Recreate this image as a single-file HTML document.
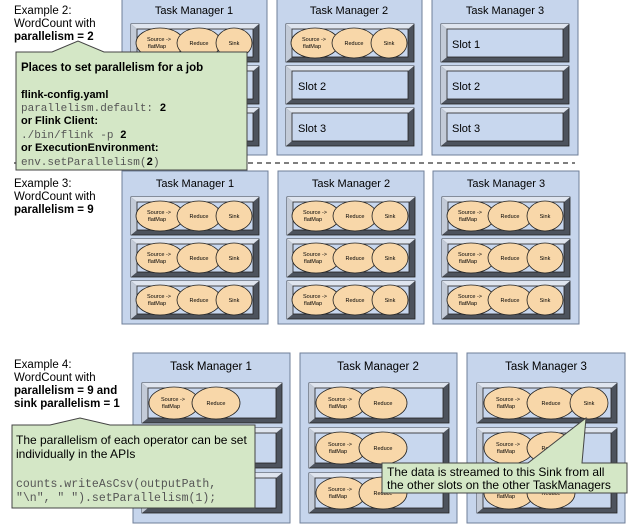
<!DOCTYPE html>
<html><head><meta charset="utf-8"><style>
html,body{margin:0;padding:0;background:#fff;}
svg{display:block;font-family:"Liberation Sans",sans-serif;}
.mono{font-family:"Liberation Mono",monospace;}
</style></head><body>
<svg width="638" height="526" viewBox="0 0 638 526" xmlns="http://www.w3.org/2000/svg">
<defs>
<symbol id="slot" overflow="visible">
 <rect x="0" y="0" width="128" height="38" fill="#4d535d" stroke="#222" stroke-width="0.8"/>
 <polygon points="0,0 128,0 122,5 6,5" fill="#dfe5ef"/>
 <polygon points="0,0 6,5 6,33 0,38" fill="#c3cbd8"/>
 <rect x="6" y="5" width="116" height="28" fill="#c8d7ee" stroke="#222" stroke-width="0.8"/>
</symbol>
<symbol id="slotw" overflow="visible">
 <rect x="0" y="0" width="140" height="40" fill="#4d535d" stroke="#222" stroke-width="0.8"/>
 <polygon points="0,0 140,0 134,5 6,5" fill="#dfe5ef"/>
 <polygon points="0,0 6,5 6,35 0,40" fill="#c3cbd8"/>
 <rect x="6" y="5" width="128" height="30" fill="#c8d7ee" stroke="#222" stroke-width="0.8"/>
</symbol>
<symbol id="ops3" overflow="visible">
 <ellipse cx="29" cy="19" rx="24" ry="15" fill="#f8d7a9" stroke="#222" stroke-width="0.8"/>
 <ellipse cx="68" cy="19" rx="22" ry="15" fill="#f8d7a9" stroke="#222" stroke-width="0.8"/>
 <ellipse cx="103" cy="19" rx="18" ry="15" fill="#f8d7a9" stroke="#222" stroke-width="0.8"/>
 <text x="28" y="17" font-size="5.5" text-anchor="middle">Source -&gt;</text>
 <text x="26" y="24" font-size="5.5" text-anchor="middle">flatMap</text>
 <text x="68" y="21" font-size="5.5" text-anchor="middle">Reduce</text>
 <text x="103" y="21" font-size="5.5" text-anchor="middle">Sink</text>
</symbol>
<symbol id="ops2" overflow="visible">
 <ellipse cx="32" cy="20" rx="25" ry="16" fill="#f8d7a9" stroke="#222" stroke-width="0.8"/>
 <ellipse cx="74" cy="20" rx="24" ry="16" fill="#f8d7a9" stroke="#222" stroke-width="0.8"/>
 <text x="31" y="18" font-size="5.5" text-anchor="middle">Source -&gt;</text>
 <text x="29" y="25" font-size="5.5" text-anchor="middle">flatMap</text>
 <text x="74" y="22" font-size="5.5" text-anchor="middle">Reduce</text>
</symbol>
</defs>

<text x="14" y="14" font-size="11.5">Example 2:</text>
<text x="14" y="27" font-size="11.5">WordCount with</text>
<text x="14" y="40" font-size="11.5" font-weight="bold">parallelism = 2</text>

<rect x="122" y="-2" width="145" height="157" fill="#c6d5ec" stroke="#6f7f99"/>
<text x="194" y="14" font-size="11" text-anchor="middle">Task Manager 1</text>
<use href="#slot" x="131" y="24"/><use href="#ops3" x="131" y="24"/>
<use href="#slot" x="131" y="66"/><use href="#slot" x="131" y="108"/>

<rect x="277" y="-2" width="145" height="157" fill="#c6d5ec" stroke="#6f7f99"/>
<text x="349" y="14" font-size="11" text-anchor="middle">Task Manager 2</text>
<use href="#slot" x="286" y="24"/><use href="#ops3" x="286" y="24"/>
<use href="#slot" x="286" y="66"/><use href="#slot" x="286" y="108"/>
<text x="298" y="90" font-size="11">Slot 2</text>
<text x="298" y="132" font-size="11">Slot 3</text>

<rect x="432" y="-2" width="146" height="157" fill="#c6d5ec" stroke="#6f7f99"/>
<text x="505" y="14" font-size="11" text-anchor="middle">Task Manager 3</text>
<use href="#slot" x="441" y="24"/><use href="#slot" x="441" y="66"/><use href="#slot" x="441" y="108"/>
<text x="452" y="48" font-size="11">Slot 1</text>
<text x="452" y="90" font-size="11">Slot 2</text>
<text x="452" y="132" font-size="11">Slot 3</text>

<line x1="14" y1="163" x2="575" y2="163" stroke="#333" stroke-width="1.2" stroke-dasharray="5,4"/>

<polygon points="16,52 52,52 78,41 104,52 247,52 247,170 16,170" fill="#d4e7c6" stroke="#444" stroke-width="1"/>
<text x="21" y="71" font-size="11.5" font-weight="bold">Places to set parallelism for a job</text>
<text x="21" y="98" font-size="11" font-weight="bold">flink-config.yaml</text>
<text x="21" y="111" font-size="11" class="mono" fill="#555">parallelism.default: <tspan font-weight="bold" fill="#000">2</tspan></text>
<text x="21" y="124" font-size="11" font-weight="bold">or Flink Client:</text>
<text x="21" y="138" font-size="11" class="mono" fill="#555">./bin/flink -p <tspan font-weight="bold" fill="#000">2</tspan></text>
<text x="21" y="151" font-size="11" font-weight="bold">or ExecutionEnvironment:</text>
<text x="21" y="165" font-size="11" class="mono" fill="#555">env.setParallelism(<tspan font-weight="bold" fill="#000">2</tspan>)</text>

<text x="14" y="187" font-size="11.5">Example 3:</text>
<text x="14" y="200" font-size="11.5">WordCount with</text>
<text x="14" y="213" font-size="11.5" font-weight="bold">parallelism = 9</text>

<rect x="122" y="171" width="146" height="153" fill="#c6d5ec" stroke="#6f7f99"/>
<text x="195" y="187" font-size="11" text-anchor="middle">Task Manager 1</text>
<use href="#slot" x="131" y="197"/><use href="#ops3" x="131" y="197"/>
<use href="#slot" x="131" y="239"/><use href="#ops3" x="131" y="239"/>
<use href="#slot" x="131" y="281"/><use href="#ops3" x="131" y="281"/>

<rect x="278" y="171" width="146" height="153" fill="#c6d5ec" stroke="#6f7f99"/>
<text x="351" y="187" font-size="11" text-anchor="middle">Task Manager 2</text>
<use href="#slot" x="287" y="197"/><use href="#ops3" x="287" y="197"/>
<use href="#slot" x="287" y="239"/><use href="#ops3" x="287" y="239"/>
<use href="#slot" x="287" y="281"/><use href="#ops3" x="287" y="281"/>

<rect x="433" y="171" width="146" height="153" fill="#c6d5ec" stroke="#6f7f99"/>
<text x="506" y="187" font-size="11" text-anchor="middle">Task Manager 3</text>
<use href="#slot" x="442" y="197"/><use href="#ops3" x="442" y="197"/>
<use href="#slot" x="442" y="239"/><use href="#ops3" x="442" y="239"/>
<use href="#slot" x="442" y="281"/><use href="#ops3" x="442" y="281"/>

<text x="14" y="368" font-size="11.5">Example 4:</text>
<text x="14" y="381" font-size="11.5">WordCount with</text>
<text x="14" y="394" font-size="11.5" font-weight="bold">parallelism = 9 and</text>
<text x="14" y="407" font-size="11.5" font-weight="bold">sink parallelism = 1</text>

<rect x="133" y="353" width="157" height="170" fill="#c6d5ec" stroke="#6f7f99"/>
<text x="211" y="370" font-size="11.5" text-anchor="middle">Task Manager 1</text>
<use href="#slotw" x="142" y="383"/><use href="#ops2" x="142" y="383"/>
<use href="#slotw" x="142" y="428"/><use href="#slotw" x="142" y="473"/>

<rect x="300" y="353" width="157" height="170" fill="#c6d5ec" stroke="#6f7f99"/>
<text x="378" y="370" font-size="11.5" text-anchor="middle">Task Manager 2</text>
<use href="#slotw" x="309" y="383"/><use href="#ops2" x="309" y="383"/>
<use href="#slotw" x="309" y="428"/><use href="#ops2" x="309" y="428"/>
<use href="#slotw" x="309" y="473"/><use href="#ops2" x="309" y="473"/>

<rect x="467" y="353" width="158" height="170" fill="#c6d5ec" stroke="#6f7f99"/>
<text x="546" y="370" font-size="11.5" text-anchor="middle">Task Manager 3</text>
<use href="#slotw" x="477" y="383"/><use href="#ops2" x="477" y="383"/>
<ellipse cx="589" cy="403" rx="19" ry="16" fill="#f8d7a9" stroke="#222" stroke-width="0.8"/>
<text x="589" y="405" font-size="5.5" text-anchor="middle">Sink</text>
<use href="#slotw" x="477" y="428"/><use href="#ops2" x="477" y="428"/>
<use href="#slotw" x="477" y="473"/><use href="#ops2" x="477" y="473"/>

<polygon points="12,425 50,425 80,418 110,425 255,425 255,508 12,508" fill="#d4e7c6" stroke="#444" stroke-width="1"/>
<text x="16" y="444" font-size="12">The parallelism of each operator can be set</text>
<text x="16" y="458" font-size="12">individually in the APIs</text>
<text x="16" y="487" font-size="11.5" class="mono" fill="#555">counts.writeAsCsv(outputPath,</text>
<text x="16" y="501" font-size="11.5" class="mono" fill="#555">"\n", " ").setParallelism(1);</text>

<polygon points="382,463 528,463 586,418 582,463 627,463 627,493 382,493" fill="#d4e7c6" stroke="#444" stroke-width="1"/>
<text x="387" y="476" font-size="12">The data is streamed to this Sink from all</text>
<text x="387" y="489" font-size="12">the other slots on the other TaskManagers</text>
</svg>
</body></html>
